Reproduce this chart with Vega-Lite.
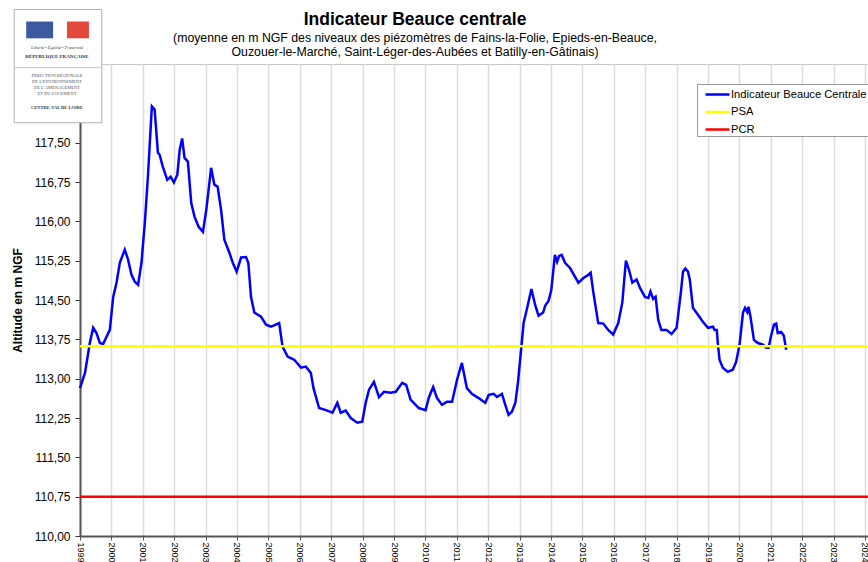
{
  "$schema": "https://vega.github.io/schema/vega-lite/v6.json",
  "width": 788,
  "height": 472,
  "autosize": {"type": "none"},
  "padding": {"left": 80, "top": 64, "right": 0, "bottom": 26},
  "background": "white",
  "config": {
    "font": "Liberation Sans",
    "view": {"stroke": "#c8c8c8", "strokeWidth": 1},
    "legend": {
      "orient": "none",
      "legendX": 617,
      "legendY": 20,
      "strokeColor": "#9a9a9a",
      "fillColor": "white",
      "padding": 1,
      "symbolType": "M-1.5,0H1.5",
      "symbolStrokeWidth": 2.5,
      "symbolSize": 256,
      "symbolOffset": 10,
      "labelFontSize": 11.2,
      "labelColor": "#000",
      "labelOffset": 4,
      "rowPadding": 2.5,
      "title": null
    }
  },
  "title": {
    "text": "Indicateur Beauce centrale",
    "subtitle": [
      "(moyenne en m NGF des niveaux des piézomètres de Fains-la-Folie, Epieds-en-Beauce,",
      "Ouzouer-le-Marché, Saint-Léger-des-Aubées et Batilly-en-Gâtinais)"
    ],
    "fontSize": 17.5,
    "fontWeight": "bold",
    "color": "#000",
    "subtitleFontSize": 12.3,
    "subtitleColor": "#000",
    "subtitleLineHeight": 14,
    "subtitlePadding": 3,
    "anchor": "middle",
    "frame": "group",
    "dx": -59,
    "dy": 56,
    "offset": 7
  },
  "datasets": {
    "indicateur": [
      {"date": "1999-01-01", "niveau": 112.82},
      {"date": "1999-02-28", "niveau": 113.11},
      {"date": "1999-04-25", "niveau": 113.68},
      {"date": "1999-06-03", "niveau": 113.97},
      {"date": "1999-07-12", "niveau": 113.87},
      {"date": "1999-08-20", "niveau": 113.68},
      {"date": "1999-09-27", "niveau": 113.66},
      {"date": "1999-12-14", "niveau": 113.93},
      {"date": "2000-01-22", "niveau": 114.56},
      {"date": "2000-03-01", "niveau": 114.83},
      {"date": "2000-04-08", "niveau": 115.21},
      {"date": "2000-06-05", "niveau": 115.46},
      {"date": "2000-07-13", "niveau": 115.27},
      {"date": "2000-08-22", "niveau": 114.98},
      {"date": "2000-09-29", "niveau": 114.85},
      {"date": "2000-11-07", "niveau": 114.79},
      {"date": "2000-12-16", "niveau": 115.21},
      {"date": "2001-01-24", "niveau": 115.97},
      {"date": "2001-03-01", "niveau": 116.85},
      {"date": "2001-04-16", "niveau": 118.19},
      {"date": "2001-05-18", "niveau": 118.13},
      {"date": "2001-06-25", "niveau": 117.31},
      {"date": "2001-07-15", "niveau": 117.27},
      {"date": "2001-08-22", "niveau": 117.04},
      {"date": "2001-10-12", "niveau": 116.79},
      {"date": "2001-11-21", "niveau": 116.85},
      {"date": "2001-12-28", "niveau": 116.74},
      {"date": "2002-02-06", "niveau": 116.89},
      {"date": "2002-03-06", "niveau": 117.37},
      {"date": "2002-04-03", "niveau": 117.58},
      {"date": "2002-05-01", "niveau": 117.21},
      {"date": "2002-06-09", "niveau": 117.14},
      {"date": "2002-07-18", "niveau": 116.35},
      {"date": "2002-08-25", "niveau": 116.09},
      {"date": "2002-10-10", "niveau": 115.90},
      {"date": "2002-12-01", "niveau": 115.80},
      {"date": "2003-01-09", "niveau": 116.22},
      {"date": "2003-03-06", "niveau": 117.02},
      {"date": "2003-04-13", "niveau": 116.70},
      {"date": "2003-05-21", "niveau": 116.66},
      {"date": "2003-06-30", "niveau": 116.22},
      {"date": "2003-08-07", "niveau": 115.65},
      {"date": "2003-10-05", "niveau": 115.40},
      {"date": "2003-11-13", "niveau": 115.21},
      {"date": "2003-12-28", "niveau": 115.04},
      {"date": "2004-02-18", "niveau": 115.31},
      {"date": "2004-04-15", "niveau": 115.32},
      {"date": "2004-05-12", "niveau": 115.21},
      {"date": "2004-06-12", "niveau": 114.56},
      {"date": "2004-07-21", "niveau": 114.26},
      {"date": "2004-10-07", "niveau": 114.18},
      {"date": "2004-12-04", "niveau": 114.03},
      {"date": "2005-02-01", "niveau": 113.99},
      {"date": "2005-03-28", "niveau": 114.03},
      {"date": "2005-05-06", "niveau": 114.06},
      {"date": "2005-06-14", "niveau": 113.61},
      {"date": "2005-08-12", "niveau": 113.42},
      {"date": "2005-10-28", "niveau": 113.36},
      {"date": "2006-01-15", "niveau": 113.21},
      {"date": "2006-03-12", "niveau": 113.23},
      {"date": "2006-05-09", "niveau": 113.11},
      {"date": "2006-06-09", "niveau": 112.82},
      {"date": "2006-08-13", "niveau": 112.44},
      {"date": "2006-11-01", "niveau": 112.40},
      {"date": "2007-01-16", "niveau": 112.35},
      {"date": "2007-03-13", "niveau": 112.54},
      {"date": "2007-04-22", "niveau": 112.35},
      {"date": "2007-06-19", "niveau": 112.39},
      {"date": "2007-08-16", "niveau": 112.25},
      {"date": "2007-11-01", "niveau": 112.16},
      {"date": "2007-12-28", "niveau": 112.18},
      {"date": "2008-02-06", "niveau": 112.54},
      {"date": "2008-03-16", "niveau": 112.79},
      {"date": "2008-05-12", "niveau": 112.94},
      {"date": "2008-07-10", "niveau": 112.65},
      {"date": "2008-09-06", "niveau": 112.75},
      {"date": "2008-11-24", "niveau": 112.73},
      {"date": "2009-01-21", "niveau": 112.75},
      {"date": "2009-04-06", "niveau": 112.92},
      {"date": "2009-05-22", "niveau": 112.88},
      {"date": "2009-07-12", "niveau": 112.60},
      {"date": "2009-10-16", "niveau": 112.44},
      {"date": "2010-01-03", "niveau": 112.40},
      {"date": "2010-02-12", "niveau": 112.65},
      {"date": "2010-04-01", "niveau": 112.84},
      {"date": "2010-05-16", "niveau": 112.63},
      {"date": "2010-07-13", "niveau": 112.50},
      {"date": "2010-09-09", "niveau": 112.56},
      {"date": "2010-11-07", "niveau": 112.56},
      {"date": "2011-01-04", "niveau": 112.98},
      {"date": "2011-03-01", "niveau": 113.30},
      {"date": "2011-04-28", "niveau": 112.82},
      {"date": "2011-06-25", "niveau": 112.71},
      {"date": "2011-09-12", "niveau": 112.63},
      {"date": "2011-11-28", "niveau": 112.54},
      {"date": "2012-01-07", "niveau": 112.69},
      {"date": "2012-03-04", "niveau": 112.71},
      {"date": "2012-04-12", "niveau": 112.65},
      {"date": "2012-06-09", "niveau": 112.71},
      {"date": "2012-07-18", "niveau": 112.50},
      {"date": "2012-08-25", "niveau": 112.31},
      {"date": "2012-10-03", "niveau": 112.37},
      {"date": "2012-11-12", "niveau": 112.54},
      {"date": "2012-12-12", "niveau": 112.92},
      {"date": "2013-01-09", "niveau": 113.40},
      {"date": "2013-02-16", "niveau": 114.06},
      {"date": "2013-03-25", "niveau": 114.32},
      {"date": "2013-05-18", "niveau": 114.71},
      {"date": "2013-07-01", "niveau": 114.40},
      {"date": "2013-08-09", "niveau": 114.20},
      {"date": "2013-10-01", "niveau": 114.26},
      {"date": "2013-10-25", "niveau": 114.39},
      {"date": "2013-12-03", "niveau": 114.48},
      {"date": "2014-01-04", "niveau": 114.69},
      {"date": "2014-02-15", "niveau": 115.36},
      {"date": "2014-03-13", "niveau": 115.23},
      {"date": "2014-04-05", "niveau": 115.34},
      {"date": "2014-05-05", "niveau": 115.36},
      {"date": "2014-06-13", "niveau": 115.21},
      {"date": "2014-08-10", "niveau": 115.11},
      {"date": "2014-11-15", "niveau": 114.83},
      {"date": "2015-01-13", "niveau": 114.92},
      {"date": "2015-02-21", "niveau": 114.96},
      {"date": "2015-04-07", "niveau": 115.02},
      {"date": "2015-05-07", "niveau": 114.66},
      {"date": "2015-07-04", "niveau": 114.06},
      {"date": "2015-09-01", "niveau": 114.05},
      {"date": "2015-10-28", "niveau": 113.93},
      {"date": "2015-12-25", "niveau": 113.84},
      {"date": "2016-02-22", "niveau": 114.06},
      {"date": "2016-04-09", "niveau": 114.45},
      {"date": "2016-05-21", "niveau": 115.25},
      {"date": "2016-06-25", "niveau": 115.08},
      {"date": "2016-08-04", "niveau": 114.83},
      {"date": "2016-09-22", "niveau": 114.89},
      {"date": "2016-11-01", "niveau": 114.73},
      {"date": "2016-12-28", "niveau": 114.56},
      {"date": "2017-02-06", "niveau": 114.54},
      {"date": "2017-03-03", "niveau": 114.66},
      {"date": "2017-04-03", "niveau": 114.52},
      {"date": "2017-05-01", "niveau": 114.56},
      {"date": "2017-06-01", "niveau": 114.12},
      {"date": "2017-07-07", "niveau": 113.93},
      {"date": "2017-09-06", "niveau": 113.93},
      {"date": "2017-11-03", "niveau": 113.85},
      {"date": "2018-01-01", "niveau": 113.97},
      {"date": "2018-02-19", "niveau": 114.64},
      {"date": "2018-03-16", "niveau": 115.04},
      {"date": "2018-04-12", "niveau": 115.10},
      {"date": "2018-05-13", "niveau": 115.04},
      {"date": "2018-06-03", "niveau": 114.89},
      {"date": "2018-07-10", "niveau": 114.35},
      {"date": "2018-09-06", "niveau": 114.22},
      {"date": "2018-11-04", "niveau": 114.08},
      {"date": "2019-01-01", "niveau": 113.97},
      {"date": "2019-02-28", "niveau": 113.99},
      {"date": "2019-03-18", "niveau": 113.93},
      {"date": "2019-04-13", "niveau": 113.93},
      {"date": "2019-04-25", "niveau": 113.68},
      {"date": "2019-05-15", "niveau": 113.36},
      {"date": "2019-06-22", "niveau": 113.21},
      {"date": "2019-08-19", "niveau": 113.13},
      {"date": "2019-10-16", "niveau": 113.17},
      {"date": "2019-11-24", "niveau": 113.32},
      {"date": "2020-01-03", "niveau": 113.65},
      {"date": "2020-02-12", "niveau": 114.26},
      {"date": "2020-03-07", "niveau": 114.35},
      {"date": "2020-04-01", "niveau": 114.27},
      {"date": "2020-04-16", "niveau": 114.37},
      {"date": "2020-05-09", "niveau": 114.18},
      {"date": "2020-06-18", "niveau": 113.74},
      {"date": "2020-08-03", "niveau": 113.68},
      {"date": "2020-10-01", "niveau": 113.65},
      {"date": "2020-11-09", "niveau": 113.59},
      {"date": "2020-12-06", "niveau": 113.59},
      {"date": "2021-01-01", "niveau": 113.80},
      {"date": "2021-02-06", "niveau": 114.03},
      {"date": "2021-03-04", "niveau": 114.05},
      {"date": "2021-03-22", "niveau": 113.87},
      {"date": "2021-05-01", "niveau": 113.89},
      {"date": "2021-06-01", "niveau": 113.82},
      {"date": "2021-06-28", "niveau": 113.55}
    ],
    "seuils": [
      {"serie": "PSA", "niveau": 113.62},
      {"serie": "PCR", "niveau": 110.75}
    ]
  },
  "layer": [
    {
      "data": {"name": "indicateur"},
      "mark": {"type": "line", "strokeWidth": 2.5},
      "encoding": {
        "x": {
          "field": "date",
          "type": "temporal",
          "title": null,
          "scale": {
            "type": "utc",
            "domain": [
              {"year": 1999, "month": 1, "date": 1, "utc": true},
              {"year": 2024, "month": 2, "date": 5, "utc": true}
            ]
          },
          "axis": {
            "format": "%Y",
            "tickCount": {"interval": "year", "step": 1},
            "labelAngle": 90,
            "labelFontSize": 9,
            "labelColor": "#000",
            "labelPadding": 2,
            "labelOverlap": false,
            "tickColor": "#555",
            "tickSize": 4,
            "domainColor": "#555",
            "domainWidth": 2,
            "grid": true,
            "gridColor": "#dcdcdc",
            "gridWidth": 1.5
          }
        },
        "y": {
          "field": "niveau",
          "type": "quantitative",
          "title": "Altitude en m NGF",
          "scale": {"domain": [110, 119], "nice": false, "zero": false},
          "axis": {
            "titleFontSize": 12,
            "titleFontWeight": "bold",
            "titleColor": "#000",
            "titlePadding": 10,
            "values": [110, 110.75, 111.5, 112.25, 113, 113.75, 114.5, 115.25, 116, 116.75, 117.5],
            "tickCount": 30,
            "labelExpr": "replace(format(datum.value, '.2f'), '.', ',')",
            "labelOverlap": false,
            "labelFontSize": 12,
            "labelColor": "#000",
            "labelPadding": 5,
            "tickColor": "#333",
            "tickSize": 5,
            "domainColor": "#555",
            "domainWidth": 2,
            "grid": false
          }
        },
        "color": {
          "datum": "Indicateur Beauce Centrale",
          "type": "nominal",
          "scale": {
            "domain": ["Indicateur Beauce Centrale", "PSA", "PCR"],
            "range": ["#0000ff", "#ffff00", "#ff0000"]
          }
        }
      }
    },
    {
      "data": {"name": "seuils"},
      "mark": {"type": "rule", "strokeWidth": 2.5},
      "encoding": {
        "y": {"field": "niveau", "type": "quantitative", "title": "Altitude en m NGF"},
        "color": {"field": "serie", "type": "nominal"}
      }
    },
    {
      "data": {"values": [{}]},
      "mark": {"type": "rect", "fill": "white", "stroke": "#b0b0b0", "strokeWidth": 1},
      "encoding": {
        "x": {"datum": {"year": 1996, "month": 11, "date": 27, "utc": true}, "type": "temporal", "title": null},
        "x2": {"datum": {"year": 1999, "month": 9, "date": 12, "utc": true}},
        "y": {"datum": 120.04, "type": "quantitative", "title": "Altitude en m NGF"},
        "y2": {"datum": 117.88}
      }
    },
    {
      "data": {"values": [{}]},
      "mark": {"type": "rule", "stroke": "#c8c8c8", "strokeWidth": 1},
      "encoding": {
        "x": {"datum": {"year": 1996, "month": 11, "date": 27, "utc": true}, "type": "temporal", "title": null},
        "x2": {"datum": {"year": 1999, "month": 9, "date": 12, "utc": true}},
        "y": {"datum": 118.93, "type": "quantitative", "title": "Altitude en m NGF"}
      }
    },
    {
      "data": {"values": [{}]},
      "mark": {"type": "rect", "fill": "#3c5aa0"},
      "encoding": {
        "x": {"datum": {"year": 1997, "month": 4, "date": 15, "utc": true}, "type": "temporal", "title": null},
        "x2": {"datum": {"year": 1998, "month": 2, "date": 22, "utc": true}},
        "y": {"datum": 119.81, "type": "quantitative", "title": "Altitude en m NGF"},
        "y2": {"datum": 119.49}
      }
    },
    {
      "data": {"values": [{}]},
      "mark": {"type": "rect", "fill": "#e4473b"},
      "encoding": {
        "x": {"datum": {"year": 1998, "month": 8, "date": 3, "utc": true}, "type": "temporal", "title": null},
        "x2": {"datum": {"year": 1999, "month": 4, "date": 15, "utc": true}},
        "y": {"datum": 119.81, "type": "quantitative", "title": "Altitude en m NGF"},
        "y2": {"datum": 119.49}
      }
    },
    {
      "data": {"values": [{}]},
      "mark": {"type": "text", "font": "Liberation Serif", "fontSize": 4.5, "fontStyle": "italic", "color": "#444", "text": "Liberté • Égalité • Fraternité"},
      "encoding": {
        "x": {"datum": {"year": 1998, "month": 4, "date": 8, "utc": true}, "type": "temporal", "title": null},
        "y": {"datum": 119.31, "type": "quantitative", "title": "Altitude en m NGF"}
      }
    },
    {
      "data": {"values": [{}]},
      "mark": {"type": "text", "font": "Liberation Serif", "fontSize": 5, "fontWeight": "bold", "color": "#333", "text": "RÉPUBLIQUE FRANÇAISE"},
      "encoding": {
        "x": {"datum": {"year": 1998, "month": 4, "date": 8, "utc": true}, "type": "temporal", "title": null},
        "y": {"datum": 119.16, "type": "quantitative", "title": "Altitude en m NGF"}
      }
    },
    {
      "data": {"values": [{}]},
      "mark": {"type": "text", "font": "Liberation Serif", "fontSize": 4.5, "color": "#555", "lineHeight": 6, "baseline": "top", "text": ["DIRECTION RÉGIONALE", "DE L'ENVIRONNEMENT", "DE L'AMÉNAGEMENT", "ET DU LOGEMENT"]},
      "encoding": {
        "x": {"datum": {"year": 1998, "month": 4, "date": 8, "utc": true}, "type": "temporal", "title": null},
        "y": {"datum": 118.82, "type": "quantitative", "title": "Altitude en m NGF"}
      }
    },
    {
      "data": {"values": [{}]},
      "mark": {"type": "text", "font": "Liberation Serif", "fontSize": 4.5, "fontWeight": "bold", "color": "#333", "text": "CENTRE-VAL DE LOIRE"},
      "encoding": {
        "x": {"datum": {"year": 1998, "month": 4, "date": 8, "utc": true}, "type": "temporal", "title": null},
        "y": {"datum": 118.16, "type": "quantitative", "title": "Altitude en m NGF"}
      }
    }
  ]
}
